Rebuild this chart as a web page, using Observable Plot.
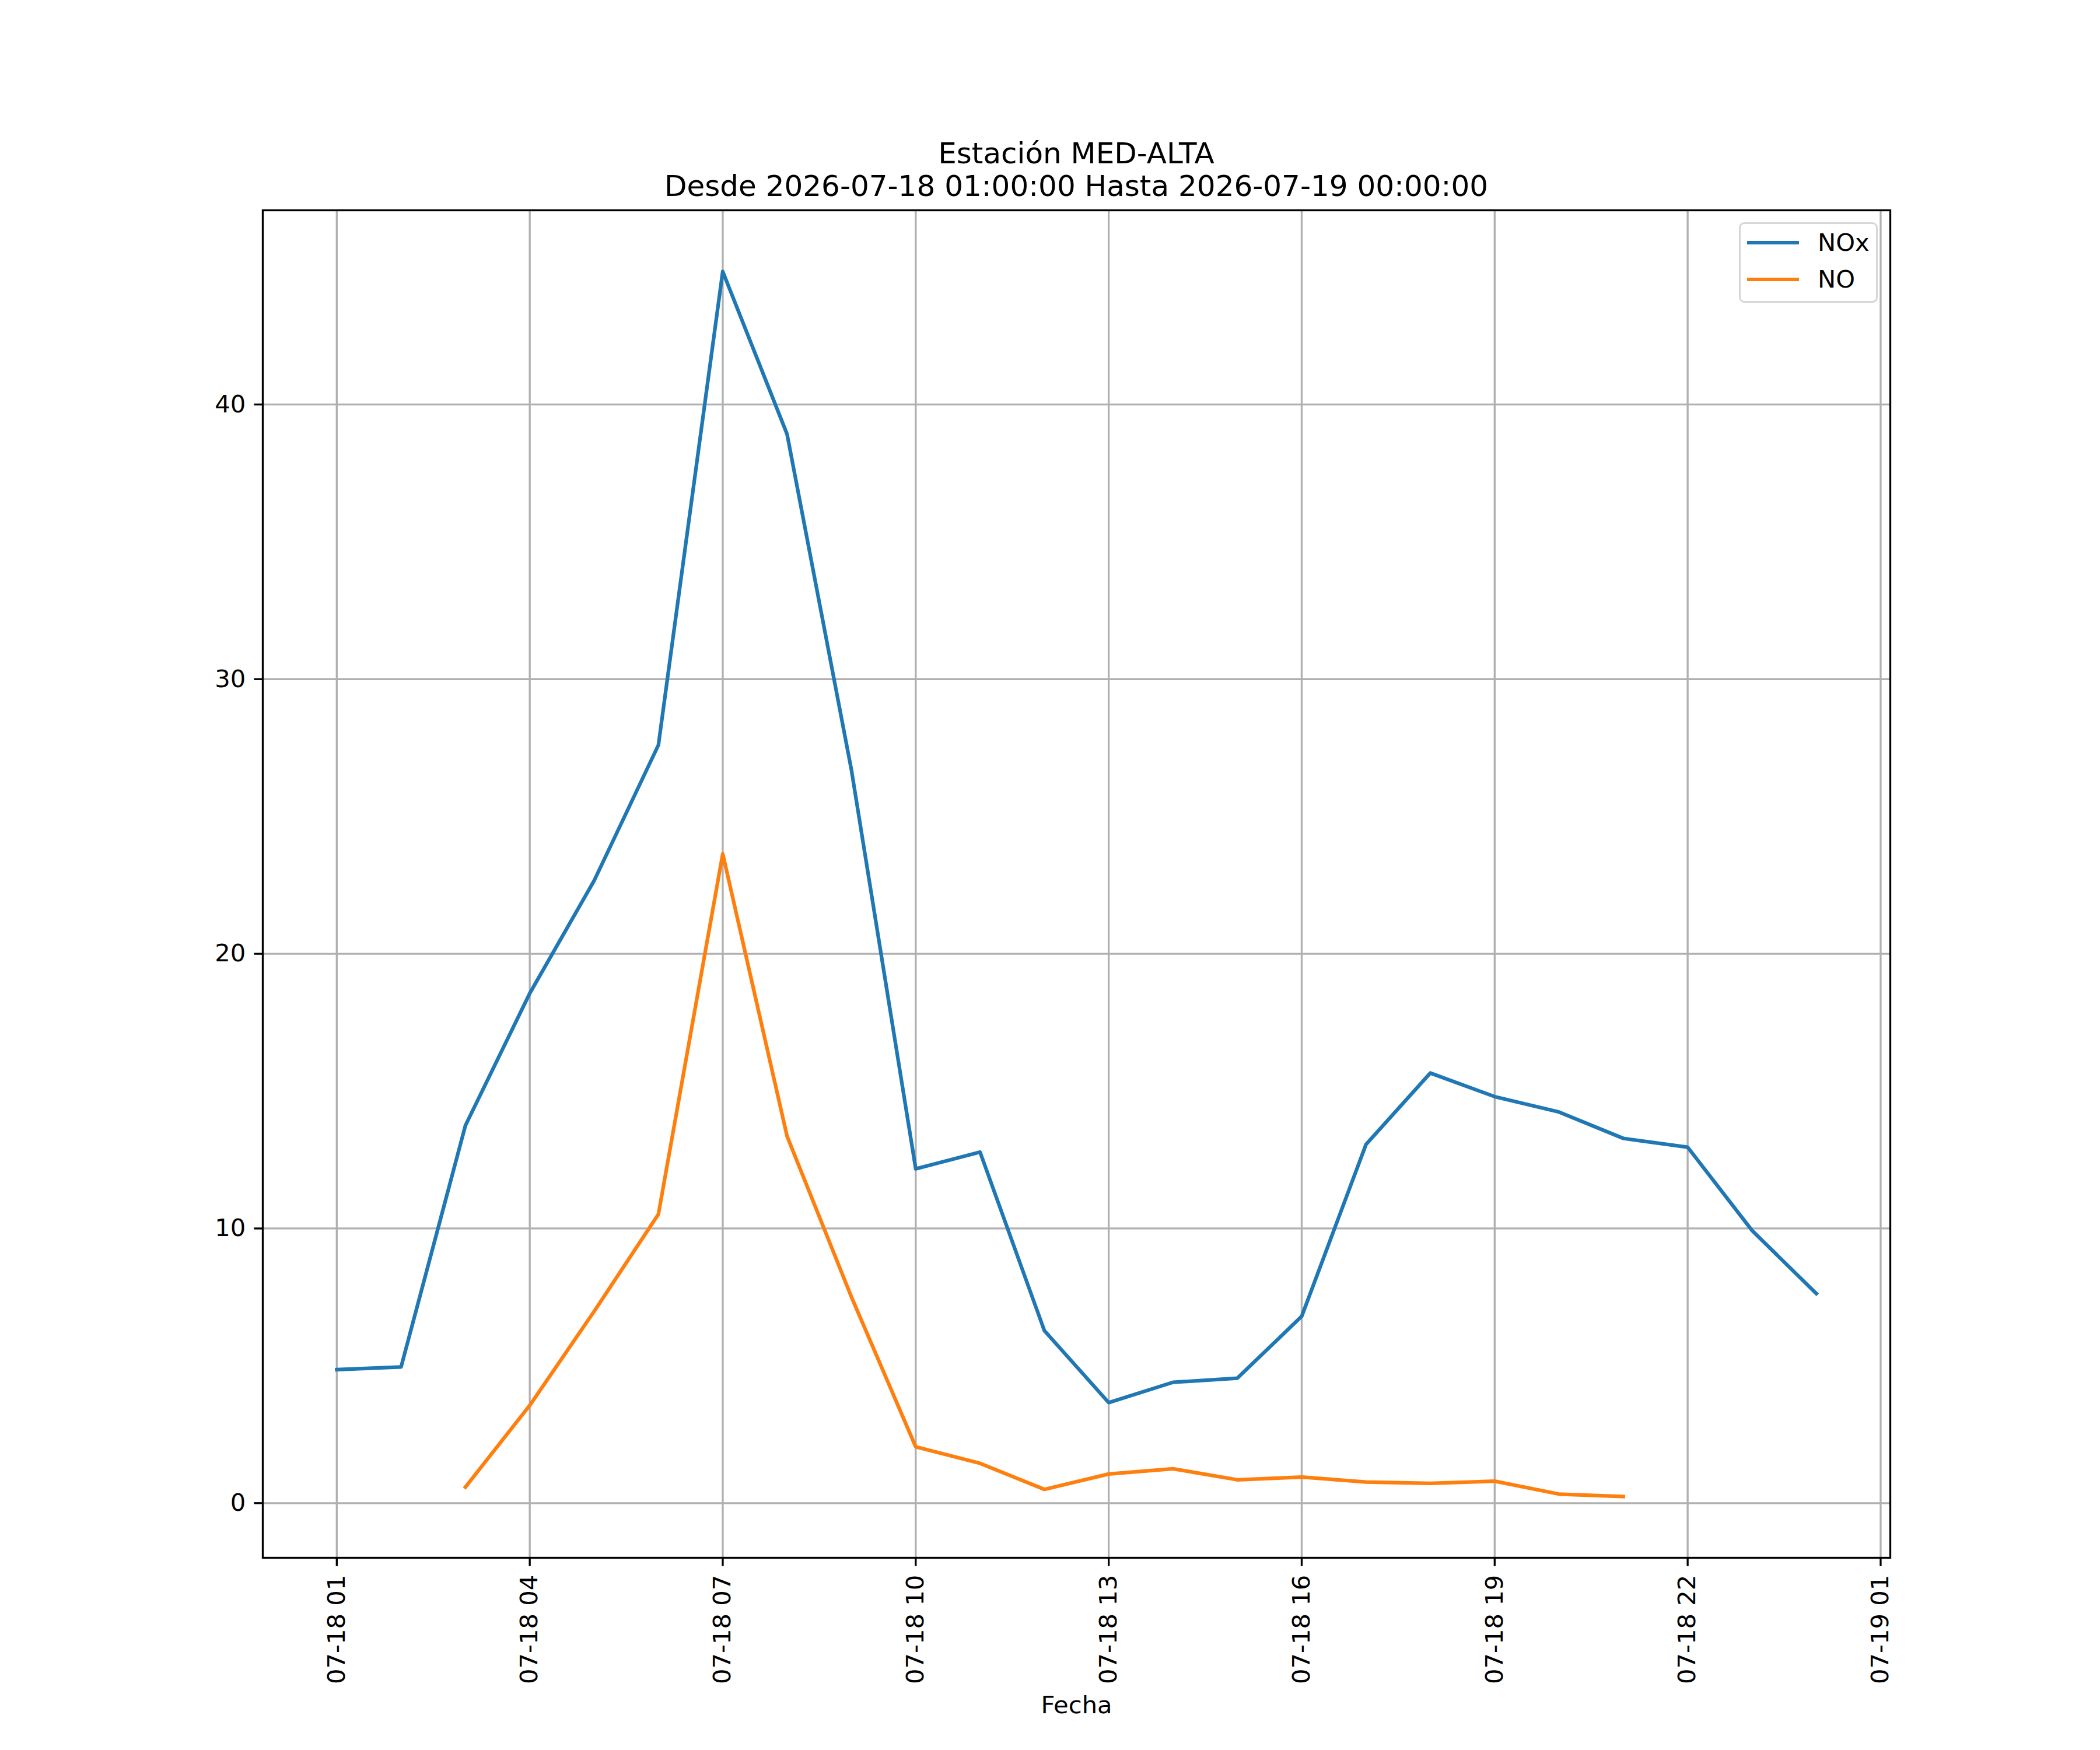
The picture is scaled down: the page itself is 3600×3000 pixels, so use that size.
<!DOCTYPE html>
<html>
<head>
<meta charset="utf-8">
<script src="https://cdn.jsdelivr.net/npm/d3@7"></script>
<script src="https://cdn.jsdelivr.net/npm/@observablehq/plot@0.6"></script>
<style>
  html, body { margin: 0; padding: 0; background: white; }
  #wrap { position: relative; width: 3600px; height: 3000px; background: white; font-family: "DejaVu Sans", sans-serif; color: black; }
  #title { width: 3600px; box-sizing: border-box; padding-left: 450px; padding-right: 360px; padding-top: 235px; height: 347px; text-align: center; font-size: 50px; line-height: 56px; }
  #title div { white-space: nowrap; }
  #legend { position: absolute; left: 2981px; top: 381px; width: 238px; height: 138px; box-sizing: border-box; border: 3px solid #d6d6d6; border-radius: 9px; background: rgba(255,255,255,0.8); }
  .sw { position: absolute; left: 11px; width: 89px; height: 6.25px; }
  .lb { position: absolute; left: 132px; font-size: 41.67px; line-height: 41.67px; white-space: nowrap; }
</style>
</head>
<body>
<div id="wrap">
  <div id="title"><div>Estación MED-ALTA</div><div>Desde 2026-07-18 01:00:00 Hasta 2026-07-19 00:00:00</div></div>
  <div id="chart"></div>
  <div id="legend"></div>
</div>
<script>
// ---- data ----
const timesNOx = ["2026-07-18T01:00Z","2026-07-18T02:00Z","2026-07-18T03:00Z","2026-07-18T04:00Z","2026-07-18T05:00Z","2026-07-18T06:00Z","2026-07-18T07:00Z","2026-07-18T08:00Z","2026-07-18T09:00Z","2026-07-18T10:00Z","2026-07-18T11:00Z","2026-07-18T12:00Z","2026-07-18T13:00Z","2026-07-18T14:00Z","2026-07-18T15:00Z","2026-07-18T16:00Z","2026-07-18T17:00Z","2026-07-18T18:00Z","2026-07-18T19:00Z","2026-07-18T20:00Z","2026-07-18T21:00Z","2026-07-18T22:00Z","2026-07-18T23:00Z","2026-07-19T00:00Z"];
const valuesNOx = [4.86, 4.96, 13.75, 18.56, 22.66, 27.6, 44.84, 38.92, 26.7, 12.17, 12.78, 6.28, 3.66, 4.40, 4.55, 6.80, 13.06, 15.66, 14.80, 14.24, 13.28, 12.96, 9.93, 7.63];
const timesNO = ["2026-07-18T03:00Z","2026-07-18T04:00Z","2026-07-18T05:00Z","2026-07-18T06:00Z","2026-07-18T07:00Z","2026-07-18T08:00Z","2026-07-18T09:00Z","2026-07-18T10:00Z","2026-07-18T11:00Z","2026-07-18T12:00Z","2026-07-18T13:00Z","2026-07-18T14:00Z","2026-07-18T15:00Z","2026-07-18T16:00Z","2026-07-18T17:00Z","2026-07-18T18:00Z","2026-07-18T19:00Z","2026-07-18T20:00Z","2026-07-18T21:00Z"];
const valuesNO = [0.585, 3.56, 6.98, 10.52, 23.64, 13.36, 7.51, 2.05, 1.45, 0.50, 1.06, 1.25, 0.85, 0.95, 0.77, 0.72, 0.80, 0.33, 0.24];
const seriesNames = ["NOx", "NO"];
const seriesColors = ["#1f77b4", "#ff7f0e"];
const xTickTimes = ["2026-07-18T01:00Z","2026-07-18T04:00Z","2026-07-18T07:00Z","2026-07-18T10:00Z","2026-07-18T13:00Z","2026-07-18T16:00Z","2026-07-18T19:00Z","2026-07-18T22:00Z","2026-07-19T01:00Z"];
const yTicks = [0, 10, 20, 30, 40];
const xLabel = "Fecha";

// ---- build ----
const nox = timesNOx.map((t, i) => ({t: new Date(t), v: valuesNOx[i]}));
const no = timesNO.map((t, i) => ({t: new Date(t), v: valuesNO[i]}));
const xt = xTickTimes.map(t => new Date(t));
const all = nox.concat(no);
const [t0, t1] = d3.extent(all, d => +d.t);
const tp = (t1 - t0) * 0.05;
const [v0, v1] = d3.extent(all, d => d.v);
const vp = (v1 - v0) * 0.05;

const lw = 6.25, sw = 3.33, fs = 41.67, tick = 14.58;

const chart = Plot.plot({
  width: 3600,
  height: 2653,
  marginLeft: 450,
  marginRight: 360,
  marginTop: 13,
  marginBottom: 330,
  style: {fontFamily: "DejaVu Sans", fontSize: fs + "px", background: "white", color: "black", overflow: "visible"},
  x: {type: "utc", domain: [new Date(t0 - tp), new Date(t1 + tp)]},
  y: {domain: [v0 - vp, v1 + vp]},
  marks: [
    Plot.gridX(xt, {stroke: "#b0b0b0", strokeOpacity: 1, strokeWidth: sw}),
    Plot.gridY(yTicks, {stroke: "#b0b0b0", strokeOpacity: 1, strokeWidth: sw}),
    Plot.line(nox, {x: "t", y: "v", stroke: seriesColors[0], strokeWidth: lw, strokeLinejoin: "round", strokeLinecap: "square"}),
    Plot.line(no, {x: "t", y: "v", stroke: seriesColors[1], strokeWidth: lw, strokeLinejoin: "round", strokeLinecap: "square"}),
    Plot.frame({stroke: "black", strokeWidth: sw}),
    Plot.axisX(xt, {tickFormat: d3.utcFormat("%m-%d %H"), tickRotate: -90, tickSize: tick, tickPadding: tick, strokeWidth: sw, fontSize: fs, label: null}),
    Plot.axisY(yTicks, {tickSize: tick, tickPadding: tick, strokeWidth: sw, fontSize: fs, label: null}),
    Plot.text([xLabel], {frameAnchor: "bottom", lineAnchor: "bottom", dy: 266, fontSize: fs, fill: "black"})
  ]
});
document.getElementById("chart").appendChild(chart);

// legend
const leg = document.getElementById("legend");
seriesNames.forEach((name, i) => {
  const s = document.createElement("div");
  s.className = "sw";
  s.style.top = (29 + i * 63) + "px";
  s.style.background = seriesColors[i];
  leg.appendChild(s);
  const l = document.createElement("div");
  l.className = "lb";
  l.style.top = (11 + i * 63) + "px";
  l.textContent = name;
  leg.appendChild(l);
});
</script>
</body>
</html>
